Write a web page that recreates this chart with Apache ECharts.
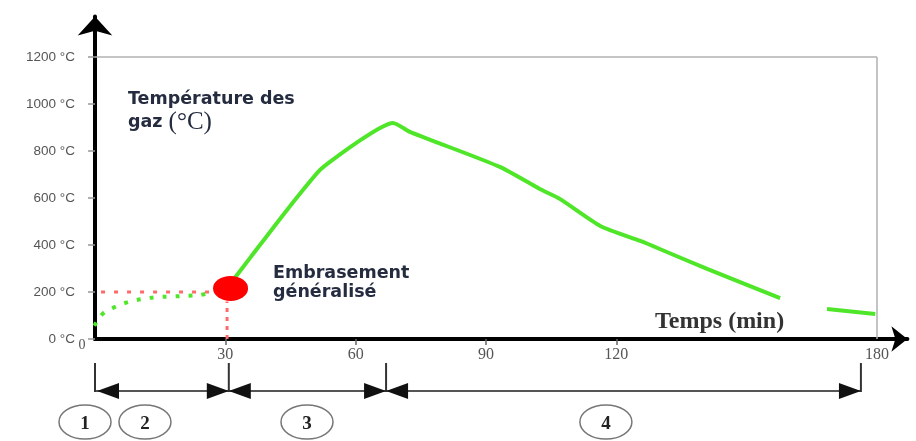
<!DOCTYPE html>
<html><head><meta charset="utf-8">
<script src="https://cdn.jsdelivr.net/npm/echarts@6/dist/echarts.min.js"></script>
<style>html,body{margin:0;padding:0;background:#fff}#c{width:916px;height:441px}</style>
</head><body><div id="c"></div>
<script>
// ---- data ----
const yTickValues = [0, 200, 400, 600, 800, 1000, 1200];
const xTickValues = [30, 60, 90, 120, 180];
const xMinorTicks = [30, 60, 90, 120];
// pre-flashover (dotted) gas temperature [min, °C]
const greenDotted = [[-1.8, 8], [-0.7, 40], [1.8, 108], [3.9, 130], [6.4, 150], [9.2, 164], [12.2, 174], [15, 179], [18, 181], [21.2, 184], [24.2, 188], [27, 198]];
// post-flashover (solid) gas temperature [min, °C]
const greenSolid = [[31.8, 251], [35.7, 345], [44.2, 549], [51.8, 719], [56.4, 785], [61, 845], [65.6, 898], [68.6, 919], [72.5, 881], [77.8, 843], [93.2, 732], [102.4, 638], [107, 596], [116.3, 481], [125.5, 417], [130, 383], [140.9, 298], [157.7, 174], [163, null], [168.5, 128], [179.6, 106]];
const flashPoint = [[31.2, 215]];
const redHoriz = [[-1.6, 200], [27, 200]];
const redVert = [[30.4, 0], [30.4, 160]];
const phaseBounds = [0, 30.8, 67, 176.3];
const phaseNames = ['1', '2', '3', '4'];
const phaseNamePos = [-2.3, 11.5, 48.8, 117.6];

const GREEN = '#4fe62a';
const chart = echarts.init(document.getElementById('c'));
chart.setOption({
  animation: false,
  grid: { left: 95, right: 8.6, top: 16.5, bottom: 102, containLabel: false },
  xAxis: {
    type: 'value', min: 0, max: 187,
    axisLine: { show: true, onZero: false, lineStyle: { color: '#000', width: 4 }, symbol: ['none', 'arrow'], symbolSize: [19, 16] },
    axisTick: { show: true, customValues: xMinorTicks, length: 6, lineStyle: { color: '#666', width: 1.5 } },
    axisLabel: { customValues: xTickValues, margin: 8, fontFamily: 'Liberation Serif', fontSize: 16, color: '#555' },
    splitLine: { show: false }
  },
  yAxis: {
    type: 'value', min: 0, max: 1372,
    axisLine: { show: true, onZero: false, lineStyle: { color: '#000', width: 4 }, symbol: ['none', 'arrow'], symbolSize: [26, 19] },
    axisTick: { show: true, customValues: yTickValues, length: 7, lineStyle: { color: '#999', width: 1.5 } },
    axisLabel: { customValues: yTickValues, margin: 20, fontFamily: 'Liberation Sans', fontSize: 13.5, color: '#555',
      formatter: v => v + ' °C' },
    splitLine: { show: false }
  },
  series: [
    { type: 'line', data: greenDotted, smooth: 0.4, showSymbol: false, clip: false, z: 3,
      lineStyle: { color: GREEN, width: 4, type: [4, 9] } },
    { type: 'line', data: greenSolid, smooth: 0.2, showSymbol: false, connectNulls: false, z: 3,
      lineStyle: { color: GREEN, width: 4 },
      markLine: { silent: true, symbol: 'none', label: { show: false },
        lineStyle: { color: '#b0b0b0', width: 1.5, type: 'solid' },
        data: [[{ coord: [0, 1200] }, { coord: [180, 1200] }], [{ coord: [180, 0] }, { coord: [180, 1200] }]] } },
    { type: 'line', data: redHoriz, showSymbol: false, clip: false, z: 2,
      lineStyle: { color: '#ff6b6b', width: 3, type: [4, 9] } },
    { type: 'line', data: redVert, showSymbol: false, z: 2,
      lineStyle: { color: '#ff6b6b', width: 3, type: [4, 5] } },
    { type: 'scatter', data: flashPoint, symbol: 'circle', symbolSize: [35, 25], z: 4,
      itemStyle: { color: '#ff0000', opacity: 1 } }
  ]
});

function px(v) { return chart.convertToPixel({ gridIndex: 0 }, [v, 0])[0]; }
const LY = 391, TT = 363;
const els = [];
const b = phaseBounds.map(px);
els.push({ type: 'line', shape: { x1: b[0], y1: LY, x2: b[3], y2: LY }, style: { stroke: '#555', lineWidth: 2 } });
b.forEach(x => els.push({ type: 'line', shape: { x1: x, y1: TT, x2: x, y2: LY + 1 }, style: { stroke: '#333', lineWidth: 2 } }));
function arrowHead(tip, dir) {
  return { type: 'polygon', shape: { points: [[tip, LY], [tip - dir * 22, LY - 8], [tip - dir * 22, LY + 8]] }, style: { fill: '#111' } };
}
els.push(arrowHead(b[0] + 2, -1));
for (let i = 1; i < 3; i++) { els.push(arrowHead(b[i], 1)); els.push(arrowHead(b[i], -1)); }
els.push(arrowHead(b[3], 1));
phaseNames.forEach((n, i) => {
  const cx = px(phaseNamePos[i]);
  els.push({ type: 'ellipse', shape: { cx: cx, cy: 422, rx: 26, ry: 17 }, style: { fill: '#fff', stroke: '#777', lineWidth: 1.5 } });
  els.push({ type: 'text', x: cx, y: 424, style: { text: n, fill: '#222', font: 'bold 19px "Liberation Serif"', align: 'center', verticalAlign: 'middle' } });
});
const o = chart.convertToPixel({ gridIndex: 0 }, [0, 0]);
els.push({ type: 'text', x: o[0] - 13, y: o[1] + 6, style: { text: '0', fill: '#555', font: '14px "Liberation Serif"', align: 'center', verticalAlign: 'middle' } });
els.push({ type: 'text', x: 128, y: 88, style: {
  text: '{b|Température des}\n{b|gaz }{s|(°C)}', lineHeight: 23,
  rich: { b: { fontFamily: 'DejaVu Sans', fontWeight: 'bold', fontSize: 17.5, fill: '#252c40', lineHeight: 23 },
          s: { fontFamily: 'Liberation Serif', fontSize: 25, fill: '#252c40', lineHeight: 23 } } } });
els.push({ type: 'text', x: 273, y: 264, style: { text: 'Embrasement\ngénéralisé', fill: '#252c40', font: 'bold 17.5px "DejaVu Sans"', lineHeight: 19 } });
els.push({ type: 'text', x: 655, y: 322, style: { text: 'Temps (min)', fill: '#333', font: 'bold 24px "Liberation Serif"', verticalAlign: 'middle' } });
chart.setOption({ graphic: { elements: els } });
</script></body></html>
